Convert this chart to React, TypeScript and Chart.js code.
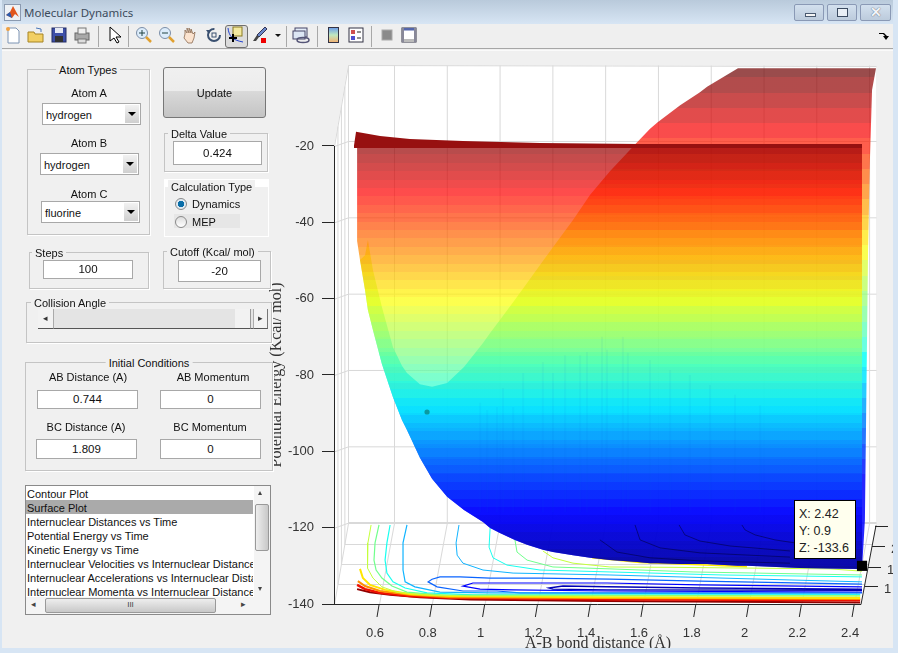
import React, { useEffect, useRef } from "react";
import { Chart, registerables } from "chart.js";

Chart.register(...registerables);

const xTicks = [0.6, 0.8, 1, 1.2, 1.4, 1.6, 1.8, 2, 2.2, 2.4];
const zTicks = [-140, -120, -100, -80, -60, -40, -20];
const depthTicks = ["", "2", "1.5", "1"];
const xTitle = "A-B bond distance (Å)";
const zTitle = "Potential Energy (Kcal/ mol)";

const surfaceX = [0.517, 0.528, 0.547, 0.558, 0.577, 0.611, 0.653, 0.687, 0.706, 0.755, 0.801, 0.858, 0.922, 0.994, 1.021, 1.058, 1.115, 1.161, 1.221, 1.259, 1.335, 1.4, 1.475, 1.578, 1.627, 1.657, 1.741, 1.816, 1.843, 1.96, 1.994, 2.195, 2.415, 2.43, 2.441, 2.453, 2.46, 2.468, 2.483];
const surfaceLowerZ = [-44.9, -49.9, -57.7, -63, -68.2, -77.1, -85.8, -91.8, -94.4, -101.7, -107.2, -111.9, -115.4, -118.5, -120.1, -121.4, -123.2, -124.5, -125.8, -126.4, -127.2, -127.9, -128.5, -129, -129.3, -129.3, -129.5, -129.5, -129.5, -130, -130, -130.6, -130.8, -130.8, -118, -47.2, -23.7, -5.3, 0.4];
const valleyUpperZ = [-44.9, -49.9, -48.6, -44.6, -52.5, -62.2, -72.7, -77.6, -79.5, -82.4, -83.1, -82.1, -77.9, -71.6, -69, -65.6, -60.3, -55.9, -50.1, -46.5, -39.4, -32.8, -26.6, -19, -15.5, -13.7, -9.3, -5.9, -4.5, 0.4, 0.4, 0.4, 0.4, 0.4, 0.4, 0.4, 0.4, 0.4, 0.4];
const frontEdgeCount = 34;
const frontTopZ = -20.3;
const bandX = [0.505, 0.513, 0.604, 0.717, 0.918, 1.21, 1.589, 2.43];
const bandTopZ = [-20, -16.3, -17.4, -18.2, -18.7, -19.2, -19.5, -19.5];
const bandBottomZ = [-20.5, -20.5, -20.5, -20.5, -20.5, -20.5, -20.5, -20.5];
const streakX = [0.983, 1.01, 1.047, 1.07, 1.108, 1.146, 1.221, 1.259, 1.305, 1.362, 1.388, 1.445, 1.464, 1.524, 1.543, 1.627, 1.703, 1.778, 1.854, 1.949, 2.044];
const streakTopZ = [-87.3, -89.2, -88.4, -83.4, -88.4, -79.5, -76.6, -79.5, -74.8, -74.8, -74, -70, -73.4, -70, -74.2, -76.1, -78.7, -80, -82.6, -85.2, -87.9];
const streakBottomZ = -116;

type P = [number, number];
const limeLower: P[] = [[0.57, -119.3], [0.558, -124], [0.555, -127.7], [0.558, -130.6], [0.577, -133.2], [0.611, -135.5], [0.668, -136.9], [0.767, -137.6], [0.945, -137.9], [2.423, -137.9]];
const greenLower: P[] = [[0.6, -119.3], [0.585, -124], [0.581, -128.5], [0.589, -131.1], [0.611, -133.2], [0.649, -135.3], [0.706, -136.9], [0.831, -137.6], [2.423, -137.9]];
const cyanLower: P[] = [[0.642, -119.3], [0.63, -124], [0.623, -128.5], [0.63, -131.9], [0.653, -134.2], [0.699, -135.8], [0.782, -137.1], [0.956, -137.6], [2.423, -137.6]];
const skyLower: P[] = [[0.706, -119.3], [0.691, -124], [0.691, -131.1], [0.699, -134.2], [0.736, -135.5], [0.831, -136.9], [1.021, -137.1], [2.423, -137.4]];
const skyUpper: P[] = [[0.903, -119.3], [0.892, -124], [0.896, -127.2], [0.918, -129.3], [0.994, -131.1], [1.108, -131.9], [1.475, -132.4], [2.157, -133.7], [2.43, -134.2]];
const cyanUpper: P[] = [[1.021, -120.1], [1.017, -125.1], [1.032, -127.9], [1.085, -129.8], [1.21, -131.1], [1.475, -131.6], [1.903, -132.4], [2.43, -132.9]];
const greenUpper: P[] = [[1.115, -123.2], [1.123, -126.4], [1.161, -128.5], [1.259, -130.3], [1.475, -130.8], [1.79, -131.6], [2.43, -132.4]];
const limeUpper: P[] = [[1.221, -126.1], [1.259, -127.9], [1.335, -129.3], [1.475, -130.3], [1.714, -130.4], [2.309, -130.8], [2.43, -131.4]];
const yellowUpper: P[] = [[1.407, -127.9], [1.589, -129.1], [1.816, -129.7], [1.994, -130.2]];
const blueLoop: P[] = [[2.43, -134.8], [1.816, -134], [1.475, -133.5], [1.21, -133.2], [1.021, -133.2], [0.907, -132.9], [0.831, -132.9], [0.801, -133.5], [0.786, -134.2], [0.82, -135.5], [0.918, -136.6], [1.047, -136.6], [1.134, -137.1], [1.475, -137.1], [2.43, -137.1]];
const deepLoop: P[] = [[2.43, -135.5], [1.816, -135], [1.464, -134.5], [1.108, -134.5], [0.956, -134.5], [0.918, -135.3], [0.983, -136.1], [1.108, -136.3], [1.464, -136.6], [2.43, -136.9]];
const navyLoop: P[] = [[2.43, -136.1], [1.816, -135.8], [1.464, -135.5], [1.297, -135.3], [1.244, -135.8], [1.259, -136.1], [1.464, -136.3], [2.43, -136.4]];
const yellowEdge: P[] = [[0.528, -130.8], [0.539, -133.2], [0.566, -135], [0.623, -136.3], [0.717, -137.4], [0.869, -137.9], [1.437, -138.2], [2.423, -138.4]];
const orangeEdge: P[] = [[0.52, -134], [0.547, -135.3], [0.604, -136.6], [0.717, -137.6], [0.869, -138.2], [1.437, -138.4], [2.423, -138.7]];
const redEdge: P[] = [[0.517, -135], [0.547, -136.1], [0.604, -137.1], [0.717, -137.9], [0.869, -138.4], [1.437, -138.8], [2.423, -139]];
const maroonEdge: P[] = [[0.517, -136.1], [0.566, -136.9], [0.642, -137.6], [0.755, -138.2], [0.945, -138.8], [1.437, -139.2], [2.423, -139.6]];
const surfaceContourA: P[] = [[1.975, -119.3], [1.987, -120.6], [2.025, -121.9], [2.1, -123.2], [2.176, -124]];
const surfaceContourB: P[] = [[1.737, -119.3], [1.759, -121.9], [1.816, -123.5], [1.93, -124.8], [2.157, -126.1]];
const surfaceContourC: P[] = [[1.57, -119.3], [1.589, -123.2], [1.665, -125.3], [1.816, -126.6], [2.157, -127.7]];
const surfaceContourD: P[] = [[1.437, -123.2], [1.502, -126.4], [1.627, -127.9], [1.816, -128.7], [2.157, -129.3]];
const startPoint: P[] = [[0.782, -89.7]];
const cursorPoint: P[] = [[2.43, -130]];

const floorContours: [P[], string, number][] = [
  [limeLower, "#c4ff3c", 1], [greenLower, "#70ff8c", 1.2], [cyanLower, "#18fff0", 1.2], [skyLower, "#10b4ff", 1.2],
  [skyUpper, "#10b4ff", 1], [cyanUpper, "#18fff0", 1], [greenUpper, "#70ff8c", 1], [limeUpper, "#c4ff3c", 1], [yellowUpper, "#ffe600", 1.6],
  [blueLoop, "#0a64ff", 1.2], [deepLoop, "#0000ff", 1.2], [navyLoop, "#0000b4", 1.4],
  [yellowEdge, "#ffe600", 2], [orangeEdge, "#ff9000", 2], [redEdge, "#f01000", 2.4], [maroonEdge, "#900000", 2],
];
const surfaceContours = [surfaceContourA, surfaceContourB, surfaceContourC, surfaceContourD];

const clamp01 = (v: number) => Math.max(0, Math.min(1, v));
const jet = (t: number, a: number) => {
  const c = (o: number) => Math.round(255 * clamp01(1.5 - Math.abs(4 * t - o)));
  return `rgba(${c(3)},${c(2)},${c(1)},${a})`;
};
const bandGradient = (chart: any, map: (z: number) => number, step: number, alpha: (z: number) => number) => {
  const y = chart.scales.y;
  if (!y || !chart.chartArea) return "rgba(0,0,0,0)";
  const hi = 2, lo = -140;
  const g = chart.ctx.createLinearGradient(0, y.getPixelForValue(hi), 0, y.getPixelForValue(lo));
  for (let z = hi; z > lo; z -= step) {
    const col = jet(map(z - step / 2), alpha(z));
    g.addColorStop((hi - z) / (hi - lo), col);
    g.addColorStop(Math.min(1, (hi - z + step) / (hi - lo)), col);
  }
  return g;
};
const frontMap = (z: number) => 0.625 + (z + 60.3) / 112;
const backMap = (z: number) => Math.max(0.125, 0.125 + (z + 107) / 120);
const toXY = (pts: P[]) => pts.map(([x, y]) => ({ x, y }));
const zip = (xs: number[], ys: number[]) => xs.map((x, i) => ({ x, y: ys[i] }));

const wallPlugin = {
  id: "wall",
  beforeDatasetsDraw(chart: any) {
    const { ctx, scales } = chart;
    const W = { l: 348, t: 65, r: 876, b: 523, fl: 334, fr: 861, fb: 604, lt: 146 };
    ctx.save();
    ctx.fillStyle = "#fff";
    ctx.beginPath();
    ctx.moveTo(W.l, W.t); ctx.lineTo(W.r, W.t + 1); ctx.lineTo(W.r, W.b); ctx.lineTo(W.fr, W.fb);
    ctx.lineTo(W.fl, W.fb); ctx.lineTo(W.fl, W.lt); ctx.closePath(); ctx.fill();
    ctx.strokeStyle = "#d9d9d9"; ctx.lineWidth = 1;
    const line = (a: number, b: number, c: number, d: number) => { ctx.beginPath(); ctx.moveTo(a + 0.5, b + 0.5); ctx.lineTo(c + 0.5, d + 0.5); ctx.stroke(); };
    line(W.l, W.t, W.r, W.t + 1); line(W.l, W.t, W.fl, W.lt); line(W.l, W.t, W.l, W.b); line(W.l, W.b, W.fl, W.fb);
    zTicks.forEach((v) => {
      if (v === -140) return;
      const p = scales.y.getPixelForValue(v);
      line(W.fl, p, W.l, p - 5); line(W.l, p - 5, W.r, p - 5);
    });
    xTicks.forEach((v) => {
      const p = scales.x.getPixelForValue(v);
      line(p + 15, W.t, p + 15, W.b); line(p + 15, W.b, p, W.fb);
    });
    [544, 564, 584].forEach((y) => {
      const f = (y - W.b) / (W.fb - W.b);
      const xl = W.l - (W.l - W.fl) * f;
      line(xl, y, W.r - (W.r - W.fr) * f, y);
      line(xl, W.t + (W.lt - W.t) * f, xl, y);
    });
    ctx.lineWidth = 2; line(W.l, W.b - 0.5, W.r, W.b - 0.5);
    ctx.restore();
  },
  afterDatasetsDraw(chart: any) {
    const { ctx, scales } = chart;
    ctx.save();
    ctx.strokeStyle = "#262626"; ctx.fillStyle = "#333"; ctx.lineWidth = 1;
    const line = (a: number, b: number, c: number, d: number) => { ctx.beginPath(); ctx.moveTo(a, b); ctx.lineTo(c, d); ctx.stroke(); };
    line(334.5, scales.y.getPixelForValue(-20), 334.5, 604.5);
    line(334, 604.5, 861, 604.5); line(861, 604.5, 876, 525.5);
    xTicks.forEach((v) => { const p = scales.x.getPixelForValue(v); line(p, 605, p - 2, 617); });
    ctx.font = "13px 'Liberation Sans'"; ctx.textBaseline = "middle"; ctx.textAlign = "left";
    [[875, 526], [872, 546], [868, 567], [865, 586]].forEach(([x, y], i) => {
      line(x, y + 0.5, x + 13, y + 0.5);
      if (depthTicks[i]) ctx.fillText(depthTicks[i], x + 19, y + 3);
    });
    ctx.font = "16px 'Liberation Serif'"; ctx.fillStyle = "#333"; ctx.textAlign = "center"; ctx.textBaseline = "alphabetic";
    ctx.fillText(xTitle, 598, 648);
    ctx.translate(281, 375); ctx.rotate(-Math.PI / 2); ctx.fillText(zTitle, 0, 0);
    ctx.restore();
  },
};

const FONT = "'Liberation Sans', Arial, sans-serif";
const abs = (x: number, y: number, w: number, h: number): React.CSSProperties => ({ position: "absolute", left: x, top: y, width: w, height: h, boxSizing: "border-box" });
const Label = ({ x, y, t, c, bg }: { x: number; y: number; t: string; c?: boolean; bg?: string }) => (
  <div style={{ position: "absolute", left: x, top: y - 7, height: 14, lineHeight: "14px", fontSize: 11, color: "#111", whiteSpace: "nowrap", transform: c ? "translateX(-50%)" : undefined, background: bg, padding: bg ? "0 3px" : 0 }}>{t}</div>
);
const Group = ({ x, y, w, h, t, lx, c, white }: { x: number; y: number; w: number; h: number; t: string; lx: number; c?: boolean; white?: boolean }) => (
  <>
    <div style={{ ...abs(x, y, w, h), border: "1px solid #c4c4c4", boxShadow: "1px 1px 0 #fff", background: "#f0f0f0" }} />
    <Label x={lx} y={y + 1} t={t} c={c} bg={white ? "#fff" : "#f0f0f0"} />
  </>
);
const Input = ({ x, y, w, h, t }: { x: number; y: number; w: number; h: number; t: string }) => (
  <div style={{ ...abs(x, y, w, h), background: "#fff", border: "1px solid #a8a8a8", textAlign: "center", fontSize: 11.5, lineHeight: `${h - 2}px`, color: "#111" }}>{t}</div>
);
const Select = ({ x, y, t }: { x: number; y: number; t: string }) => (
  <div style={{ ...abs(x, y, 99, 22), background: "#fff", border: "1px solid #a8a8a8", fontSize: 11, lineHeight: "22px", paddingLeft: 3, color: "#111" }}>
    {t}
    <div style={{ position: "absolute", right: 1, top: 1, width: 14, height: 18, background: "linear-gradient(#f2f2f2,#cfcfcf)" }}>
      <div style={{ position: "absolute", left: 3, top: 7, borderLeft: "4px solid transparent", borderRight: "4px solid transparent", borderTop: "4px solid #000" }} />
    </div>
  </div>
);
const Radio = ({ x, y, on }: { x: number; y: number; on?: boolean }) => (
  <div style={{ position: "absolute", left: x - 6, top: y - 6, width: 12, height: 12, borderRadius: 6, border: "1px solid #8a8a8a", boxSizing: "border-box", background: on ? "radial-gradient(#0a6ea8 0 3px,#dfeaf2 3.5px)" : "linear-gradient(#ddd,#fff)" }} />
);

const Icon = ({ x, children, w }: { x: number; children: React.ReactNode; w?: number }) => (
  <svg width={w || 20} height={20} viewBox="0 0 20 20" style={{ position: "absolute", left: x - (w || 20) / 2, top: 25 }}>{children}</svg>
);
const Sep = ({ x }: { x: number }) => <div style={{ ...abs(x, 26, 1, 21), background: "#a8a8a8" }} />;
const WinBtn = ({ x, w, children }: { x: number; w: number; children: React.ReactNode }) => (
  <div style={{ ...abs(x, 4, w, 17), border: "1px solid #8a99b5", borderRadius: 2, background: "linear-gradient(#d3e0ee,#bccbdc)" }}>{children}</div>
);

const listItems = ["Contour Plot", "Surface Plot", "Internuclear Distances vs Time", "Potential Energy vs Time", "Kinetic Energy vs Time", "Internuclear Velocities vs Internuclear Distance", "Internuclear Accelerations vs Internuclear Distance", "Internuclear Momenta vs Internuclear Distance"];

export default function App() {
  const ref = useRef<HTMLCanvasElement>(null);
  useEffect(() => {
    document.body.style.margin = "0";
    const invisible = { showLine: true, borderWidth: 0, pointRadius: 0, fill: false };
    const datasets: any[] = [
      { ...invisible, data: zip(surfaceX, surfaceLowerZ), order: 100 },
      { ...invisible, data: zip(surfaceX, valleyUpperZ), order: 50, fill: { target: 0 }, backgroundColor: (c: any) => bandGradient(c.chart, backMap, 4, (z) => (z < -70 ? 0.85 : 0.7)) },
      { ...invisible, data: zip(surfaceX.slice(0, frontEdgeCount), surfaceLowerZ.slice(0, frontEdgeCount)), order: 100 },
      { ...invisible, data: surfaceX.slice(0, frontEdgeCount).map((x) => ({ x, y: frontTopZ })), order: 40, fill: { target: 2 }, backgroundColor: (c: any) => bandGradient(c.chart, frontMap, 2.2, () => 0.7) },
      { ...invisible, data: zip(bandX, bandBottomZ), order: 100 },
      { ...invisible, data: zip(bandX, bandTopZ), order: 30, fill: { target: 4 }, backgroundColor: "#971010" },
      ...floorContours.map(([pts, color, w]) => ({ data: toXY(pts), showLine: true, borderColor: color, borderWidth: w, pointRadius: 0, order: 60, tension: 0 })),
      ...surfaceContours.map((pts) => ({ data: toXY(pts), showLine: true, borderColor: "rgba(0,0,60,0.55)", borderWidth: 1, pointRadius: 0, order: 10 })),
      ...streakX.map((x, i) => ({ data: [{ x, y: streakTopZ[i] }, { x, y: streakBottomZ }], showLine: true, borderColor: "rgba(0,90,220,0.05)", borderWidth: 2, pointRadius: 0, order: 12 })),
      { data: toXY(startPoint), pointRadius: 2.6, pointBackgroundColor: "#0b9aa0", pointBorderWidth: 0, order: 5 },
      { data: toXY(cursorPoint), pointStyle: "rect", pointRadius: 7.2, pointBackgroundColor: "#000", pointBorderWidth: 0, order: 1 },
    ];
    const chart = new Chart(ref.current as HTMLCanvasElement, {
      type: "scatter",
      data: { datasets },
      plugins: [wallPlugin as any],
      options: {
        animation: false, responsive: false, events: [],
        layout: { padding: { left: 0, right: 22, top: 65, bottom: 0 } },
        plugins: { legend: { display: false }, tooltip: { enabled: false } },
        elements: { line: { tension: 0 } },
        scales: {
          x: {
            type: "linear", min: 0.4295, max: 2.483,
            afterBuildTicks: (s: any) => { s.ticks = xTicks.map((value) => ({ value })); },
            afterFit: (s: any) => { s.height = 49; },
            border: { display: false },
            grid: { drawOnChartArea: false, drawTicks: false },
            ticks: { callback: (v: any) => String(v), autoSkip: false, maxRotation: 0, labelOffset: -4, padding: 22, color: "#333", font: { family: "Liberation Sans", size: 13 } },
          },
          y: {
            type: "linear", min: -140, max: 1.22,
            afterBuildTicks: (s: any) => { s.ticks = zTicks.map((value) => ({ value })); },
            afterFit: (s: any) => { s.width = 334; },
            border: { display: false },
            grid: { drawOnChartArea: false, tickLength: 12, color: "#262626" },
            ticks: { callback: (v: any) => String(v), padding: 8, color: "#333", font: { family: "Liberation Sans", size: 13 } },
          },
        },
      } as any,
    });
    return () => chart.destroy();
  }, []);

  return (
    <div style={{ position: "fixed", left: 0, top: 0, width: 898, height: 653, overflow: "hidden", background: "#f0f0f0", fontFamily: FONT }}>
      <canvas ref={ref} width={898} height={653} style={{ position: "absolute", left: 0, top: 0, width: 898, height: 653 }} />

      {/* window frame */}
      <div style={{ ...abs(0, 0, 898, 24), background: "linear-gradient(#b9cadb,#d7e5f4)" }} />
      <div style={{ ...abs(0, 0, 2, 653), background: "#d7e5f4" }} />
      <div style={{ ...abs(893, 0, 5, 653), background: "#d7e5f4" }} />
      <div style={{ ...abs(0, 648, 898, 5), background: "#d7e5f4" }} />
      <svg width={17} height={17} viewBox="0 0 17 17" style={{ position: "absolute", left: 4, top: 4 }}>
        <rect x={0.5} y={0.5} width={16} height={16} fill="#eef2f6" stroke="#8b9ab0" />
        <path d="M2 11 L6 8 L9 2 L15 13 L11 10 L8 14 Z" fill="#e2571e" />
        <path d="M2 11 L6 8 L8 14 Z" fill="#2a5db0" />
      </svg>
      <div style={{ position: "absolute", left: 24, top: 4, fontFamily: "'Noto Sans'", fontSize: 11.5, lineHeight: "18px", color: "#3c4b5c" }}>Molecular Dynamics</div>
      <WinBtn x={794} w={30}><div style={{ ...abs(10, 8, 11, 4), background: "#f5f5f5", border: "1px solid #4a5a70" }} /></WinBtn>
      <WinBtn x={827} w={30}><div style={{ ...abs(9, 3, 11, 9), border: "1px solid #3a4a60", background: "#e8eef5" }} /></WinBtn>
      <WinBtn x={860} w={31}><div style={{ position: "absolute", left: 9, top: -1, fontSize: 14, fontWeight: 700, color: "#f4f6f9", textShadow: "0 0 1px #334" }}>✕</div></WinBtn>

      {/* toolbar */}
      <div style={{ ...abs(2, 24, 891, 25), background: "#efefef", borderBottom: "1px solid #a6a6a6" }} />
      <div style={{ ...abs(2, 50, 891, 1), background: "#fafafa" }} />
      <Icon x={13}><path d="M5 3h8l3 3v12H5z" fill="#fff" stroke="#7d94b4" /><circle cx={5} cy={4} r={2} fill="#f0a040" /></Icon>
      <Icon x={36}><path d="M2 7h6l1 2h8v8H2z" fill="#f2cf63" stroke="#a68424" /><path d="M10 3l5 1 0 3" fill="none" stroke="#4a76b8" /></Icon>
      <Icon x={59}><rect x={3} y={3} width={14} height={14} fill="#3d4fa8" stroke="#222c66" /><rect x={6} y={3} width={8} height={5} fill="#e4e8f4" /><rect x={6} y={11} width={8} height={6} fill="#333" /></Icon>
      <Icon x={82}><rect x={3} y={8} width={14} height={7} fill="#a8a8a8" stroke="#666" /><rect x={6} y={3} width={8} height={6} fill="#eee" stroke="#777" /><rect x={6} y={14} width={8} height={4} fill="#ddd" stroke="#777" /></Icon>
      <Sep x={98} />
      <Icon x={114}><path d="M6 2v14l4-3 3 5 2-1-3-5h5z" fill="#fff" stroke="#000" /></Icon>
      <Sep x={128} />
      <Icon x={144}><circle cx={8} cy={8} r={5.5} fill="#dcecfb" stroke="#7b8ea8" /><path d="M5 8h6M8 5v6" stroke="#244" /><path d="M12 12l5 5" stroke="#e0a030" strokeWidth={2.5} /></Icon>
      <Icon x={167}><circle cx={8} cy={8} r={5.5} fill="#dcecfb" stroke="#7b8ea8" /><path d="M5 8h6" stroke="#244" /><path d="M12 12l5 5" stroke="#e0a030" strokeWidth={2.5} /></Icon>
      <Icon x={190}><path d="M5 9V5l2 3V3l2 5V3l2 5V4l2 5 2-2-1 6-2 5H8l-4-5z" fill="#fbe3cf" stroke="#8a6a50" strokeWidth={0.8} /></Icon>
      <Icon x={213}><circle cx={11} cy={10} r={6} fill="none" stroke="#3a5070" strokeWidth={2} strokeDasharray="28 10" /><rect x={9} y={8} width={4} height={4} fill="none" stroke="#3a5070" /><path d="M3 5l5 0-2 4z" fill="#3a5070" /></Icon>
      <div style={{ ...abs(225, 25, 23, 23), border: "1px solid #707070", borderRadius: 3, background: "#dcdcdc" }} />
      <Icon x={236}><path d="M2 3c1 8 4 12 15 14" fill="none" stroke="#2040d0" /><rect x={7} y={2} width={9} height={9} fill="#f3e9a0" stroke="#8a7a20" /><path d="M3 13h8M7 9v8" stroke="#000" strokeWidth={2} /></Icon>
      <Icon x={260}><path d="M15 2l2 2-8 8-2-2z" fill="#6a88c8" stroke="#335" /><path d="M7 10l2 2-3 4-3 0z" fill="#444" /><rect x={11} y={13} width={5} height={5} fill="#e00" /></Icon>
      <div style={{ position: "absolute", left: 275, top: 34, borderLeft: "3px solid transparent", borderRight: "3px solid transparent", borderTop: "3px solid #111" }} />
      <Sep x={286} />
      <Icon x={301}><rect x={4} y={3} width={12} height={9} fill="#e4ecf8" stroke="#446" /><rect x={2} y={6} width={12} height={8} fill="#dce6f4" stroke="#446" /><ellipse cx={12} cy={15} rx={6} ry={2.5} fill="none" stroke="#557" strokeWidth={1.5} /></Icon>
      <Sep x={317} />
      <svg width={11} height={16} style={{ position: "absolute", left: 328, top: 27 }}>
        <defs><linearGradient id="cb" x1="0" y1="0" x2="0" y2="1"><stop offset="0" stopColor="#6a9ae8" /><stop offset="0.5" stopColor="#bfe8c0" /><stop offset="1" stopColor="#f4b070" /></linearGradient></defs>
        <rect x={0.5} y={0.5} width={10} height={15} fill="url(#cb)" stroke="#334" />
      </svg>
      <Icon x={356}><rect x={3} y={3} width={14} height={14} fill="#fff" stroke="#334" /><rect x={5} y={5} width={4} height={4} fill="#d05050" /><rect x={5} y={11} width={4} height={4} fill="#5050d0" /><path d="M11 7h4M11 13h4" stroke="#222" /></Icon>
      <Sep x={371} />
      <Icon x={387}><rect x={5} y={5} width={10} height={10} fill="#8a8a8a" stroke="#aaa" /></Icon>
      <Icon x={409}><rect x={3} y={3} width={14} height={14} fill="#fff" stroke="#334" /><rect x={3} y={3} width={14} height={2.5} fill="#5566aa" /><rect x={3} y={14} width={14} height={3} fill="#bbb" /><rect x={3} y={3} width={2} height={14} fill="#889" /><rect x={15} y={3} width={2} height={14} fill="#889" /></Icon>
      <svg width={12} height={10} style={{ position: "absolute", left: 878, top: 31 }}><path d="M1 2h5l3 3h2l-3 4-3-4h2L5 3H1z" fill="#000" /></svg>

      {/* left controls */}
      <Group x={27} y={69} w={123} h={166} t="Atom Types" lx={88} c />
      <Label x={89} y={93} t="Atom A" c /><Select x={42} y={103} t="hydrogen" />
      <Label x={89} y={143} t="Atom B" c /><Select x={40} y={153} t="hydrogen" />
      <Label x={89} y={194} t="Atom C" c /><Select x={41} y={201} t="fluorine" />

      <div style={{ ...abs(163, 67, 103, 51), border: "1px solid #777", borderRadius: 3, background: "linear-gradient(#f0f0f0 0,#ececec 47%,#d9d9d9 48%,#c4c4c4 100%)", textAlign: "center", fontSize: 11, lineHeight: "50px", color: "#111" }}>Update</div>

      <Group x={164} y={133} w={104} h={39} t="Delta Value" lx={168} />
      <Input x={173} y={141} w={89} h={24} t="0.424" />
      <div style={{ ...abs(164, 179, 105, 58), background: "#fff" }} />
      <div style={{ ...abs(165, 187, 103, 49), background: "#f0f0f0" }} />
      <Label x={168} y={187} t="Calculation Type" bg="#f0f0f0" />
      <Radio x={181} y={204} on /><Label x={192} y={204} t="Dynamics" />
      <div style={{ ...abs(174, 214, 66, 14), background: "#e6e6e6" }} />
      <Radio x={181} y={222} /><Label x={192} y={222} t="MEP" />

      <Group x={29} y={252} w={120} h={37} t="Steps" lx={32} />
      <Input x={43} y={260} w={90} h={19} t="100" />
      <Group x={163} y={251} w={108} h={38} t="Cutoff (Kcal/ mol)" lx={167} />
      <Input x={178} y={260} w={83} h={22} t="-20" />

      <Group x={26} y={302} w={246} h={41} t="Collision Angle" lx={31} />
      <div style={{ ...abs(38, 309, 230, 20), background: "#e4e4e4", borderBottom: "1px solid #555" }} />
      <div style={{ ...abs(38, 309, 16, 20), background: "#f2f2f2", borderRight: "1px solid #aaa", borderBottom: "1px solid #555", textAlign: "center", fontSize: 9, lineHeight: "19px", color: "#333" }}>◂</div>
      <div style={{ ...abs(235, 309, 16, 20), background: "#f2f2f2", borderRight: "1px solid #999", borderBottom: "1px solid #555" }} />
      <div style={{ ...abs(253, 309, 15, 20), background: "#f2f2f2", borderLeft: "1px solid #aaa", borderRight: "1px solid #777", borderBottom: "1px solid #555", textAlign: "center", fontSize: 9, lineHeight: "19px", color: "#333" }}>▸</div>

      <Group x={25} y={362} w={248} h={109} t="Initial Conditions" lx={149} c />
      <Label x={88} y={377} t="AB Distance (A)" c /><Input x={37} y={390} w={101} h={19} t="0.744" />
      <Label x={213} y={377} t="AB Momentum" c /><Input x={160} y={390} w={101} h={19} t="0" />
      <Label x={86} y={427} t="BC Distance (A)" c /><Input x={36} y={439} w={101} h={20} t="1.809" />
      <Label x={210} y={427} t="BC Momentum" c /><Input x={160} y={439} w={101} h={20} t="0" />

      <div style={{ ...abs(25, 485, 246, 130), background: "#fff", border: "1px solid #8a8a8a" }} />
      <div style={{ ...abs(26, 500, 227, 14), background: "#aaaaaa" }} />
      <div style={{ position: "absolute", left: 27, top: 487, width: 226, height: 112, overflow: "hidden", fontSize: 11, lineHeight: "14px", color: "#111", whiteSpace: "nowrap" }}>
        {listItems.map((t) => <div key={t}>{t}</div>)}
      </div>
      <div style={{ ...abs(254, 486, 16, 111), background: "#f4f4f4" }} />
      <div style={{ ...abs(255, 504, 14, 47), background: "linear-gradient(90deg,#eee,#c8c8c8)", border: "1px solid #999", borderRadius: 2 }} />
      <div style={{ ...abs(26, 597, 244, 17), background: "#f4f4f4" }} />
      <div style={{ ...abs(45, 598, 171, 15), background: "linear-gradient(#eee,#c8c8c8)", border: "1px solid #999", borderRadius: 2, textAlign: "center", fontSize: 8, lineHeight: "12px", color: "#444" }}>III</div>
      <div style={{ position: "absolute", left: 31, top: 599, fontSize: 9, color: "#444" }}>◂</div>
      <div style={{ position: "absolute", left: 241, top: 599, fontSize: 9, color: "#444" }}>▸</div>
      <div style={{ position: "absolute", left: 258, top: 488, fontSize: 8, color: "#444" }}>▴</div>
      <div style={{ position: "absolute", left: 258, top: 584, fontSize: 8, color: "#444" }}>▾</div>

      {/* data tip */}
      <div style={{ ...abs(794, 500, 62, 59), background: "#ffffee", border: "1px solid #000", padding: "5px 4px", fontSize: 12.5, lineHeight: "17px", color: "#222" }}>
        <div>X: 2.42</div><div>Y: 0.9</div><div>Z: -133.6</div>
      </div>
    </div>
  );
}
